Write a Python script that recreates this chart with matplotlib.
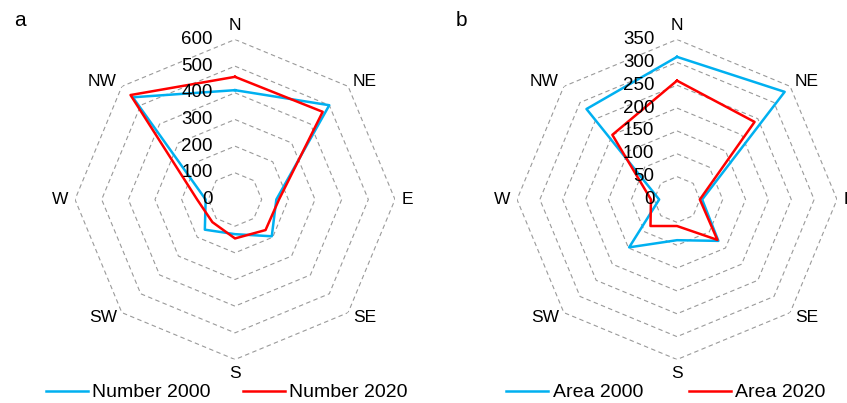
import numpy as np
import matplotlib
matplotlib.use("Agg")
import matplotlib.pyplot as plt
from matplotlib.lines import Line2D
from matplotlib.transforms import offset_copy

plt.rcParams["font.family"] = ["Liberation Sans", "DejaVu Sans"]

# Compass directions (clockwise from north)
directions = ["N", "NE", "E", "SE", "S", "SW", "W", "NW"]

# Panel a: number of features per direction
number_2000 = [410, 500, 155, 195, 130, 160, 110, 542]
number_2020 = [460, 465, 165, 162, 146, 120, 142, 554]
number_rings = [0, 100, 200, 300, 400, 500, 600]

# Panel b: area per direction
area_2000 = [312, 333, 55, 128, 89, 148, 39, 280]
area_2020 = [260, 240, 50, 125, 58, 82, 57, 200]
area_rings = [0, 50, 100, 150, 200, 250, 300, 350]

BLUE = "#00B0F0"
RED = "#FF0000"
GRID = "#9a9a9a"

W, H = 847, 403
fig = plt.figure(figsize=(W / 100, H / 100), dpi=100)

theta = np.deg2rad(np.arange(len(directions)) * 360.0 / len(directions))
theta_closed = np.append(theta, 2 * np.pi)

# label alignment per direction
align = {
    "N": ("center", "bottom"), "NE": ("left", "center"), "E": ("left", "center"),
    "SE": ("left", "center"), "S": ("center", "top"), "SW": ("right", "center"),
    "W": ("right", "center"), "NW": ("right", "center"),
}


def spider(cx, cy, radius, rings, s1, s2, letter, names, legend_cx, colspace):
    ax = fig.add_axes([(cx - radius) / W, (H - cy - radius) / H,
                       2 * radius / W, 2 * radius / H], projection="polar")
    ax.set_theta_zero_location("N")
    ax.set_theta_direction(-1)
    rmax = rings[-1]
    ax.set_ylim(0, rmax)
    ax.set_xticks([])
    ax.set_yticks([])
    ax.grid(False)
    ax.spines["polar"].set_visible(False)
    ax.patch.set_alpha(0)

    # octagonal dashed rings
    for r in rings[1:]:
        ax.plot(theta_closed, [r] * len(theta_closed), color=GRID,
                lw=0.8, ls=(0, (4, 3)), zorder=1)

    ax.plot(theta_closed, np.append(s1, s1[0]), color=BLUE, lw=1.8, zorder=3)
    ax.plot(theta_closed, np.append(s2, s2[0]), color=RED, lw=1.8, zorder=4)

    # ring value labels along the north axis
    tr = offset_copy(ax.transData, fig=fig, x=-22.5, y=0, units="dots")
    for r in rings:
        ax.text(0, r, str(r), transform=tr, ha="right", va="center",
                fontsize=13.5, color="black", zorder=5)

    # direction labels
    for t, d in zip(theta, directions):
        ha, va = align[d]
        ax.text(t, rmax * 1.043, d, ha=ha, va=va, fontsize=12.5,
                color="black", clip_on=False)

    fig.text((cx - 221) / W, 1 - 21 / H, letter, fontsize=15,
             ha="left", va="center")

    handles = [Line2D([], [], color=BLUE, lw=1.8),
               Line2D([], [], color=RED, lw=1.8)]
    fig.legend(handles, names, loc="center", ncol=2, frameon=False,
               bbox_to_anchor=(legend_cx / W, 1 - 392.5 / H),
               fontsize=14, handlelength=2.16, handletextpad=0.22,
               columnspacing=colspace, borderpad=0, borderaxespad=0)
    return ax


spider(235, 199.5, 160, number_rings, number_2000, number_2020, "a",
       ["Number 2000", "Number 2020"], 226.5, 1.65)
spider(677, 199.5, 160, area_rings, area_2000, area_2020, "b",
       ["Area 2000", "Area 2020"], 666, 2.37)

fig.savefig("out.png", dpi=100)
